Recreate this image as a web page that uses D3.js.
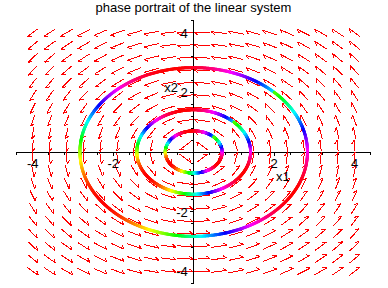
<!DOCTYPE html>
<html>
<head>
<meta charset="utf-8">
<script src="https://cdn.jsdelivr.net/npm/d3@7"></script>
<style>
  html, body { margin: 0; padding: 0; background: #fff; }
  svg { display: block; font-family: "Liberation Sans", Arial, sans-serif; }
</style>
</head>
<body>
<div id="chart"></div>
<script>
// linear system x' = A x, with the plotted trajectories
const systemMatrix = [[0, -1], [1, 0]];
const initialX1 = [0.5, 1, 2];
const initialX2 = [0.5, 1, 2];
const timeSpan = [0, 2 * Math.PI];

// direction field grid
const gridRange = [-4, 4];
const gridCount = 20;

// axes
const viewRange = [-4.4, 4.4];
const minorTickStep = 0.4;
const xTickLabels = [-4, -2, 2, 4];
const yTickLabels = [-4, -2, 2, 4];

const TITLE = 'phase portrait of the linear system';
const WIDTH = 388, HEIGHT = 288;
const PLOT = {left: 16.7, right: 370.7, top: 20.7, bottom: 283.3};
const ARROW_LEN = 0.39;   // data units
const BARB_LEN = 4.5, BARB_ANGLE = 35 * Math.PI / 180;

const svg = d3.select('#chart').append('svg')
  .attr('width', WIDTH)
  .attr('height', HEIGHT);

const x = d3.scaleLinear().domain(viewRange).range([PLOT.left, PLOT.right]);
const y = d3.scaleLinear().domain(viewRange).range([PLOT.bottom, PLOT.top]);

function field(p) {
  return [
    systemMatrix[0][0] * p[0] + systemMatrix[0][1] * p[1],
    systemMatrix[1][0] * p[0] + systemMatrix[1][1] * p[1]
  ];
}

// ---- axes through the origin (drawn first, curves go on top)
const minorTicks = d3.range(-11, 12).filter(k => k !== 0).map(k => k * minorTickStep);
const axisColor = '#000';
const x0 = x(0), y0 = y(0);
const isMajor = (d, list) => list.includes(Math.round(d * 10) / 10);

const axG = svg.append('g').attr('class', 'axes').attr('shape-rendering', 'crispEdges');
axG.append('line')
  .attr('x1', PLOT.left).attr('x2', PLOT.right)
  .attr('y1', y0).attr('y2', y0)
  .attr('stroke', axisColor);
axG.append('line')
  .attr('x1', x0).attr('x2', x0)
  .attr('y1', PLOT.top).attr('y2', PLOT.bottom)
  .attr('stroke', axisColor);

axG.selectAll('.xtick')
  .data(minorTicks)
  .enter().append('line')
  .attr('class', 'xtick')
  .attr('x1', d => x(d)).attr('x2', d => x(d))
  .attr('y1', y0).attr('y2', d => y0 + (isMajor(d, xTickLabels) ? 4 : 3))
  .attr('stroke', axisColor);

axG.selectAll('.ytick')
  .data(minorTicks)
  .enter().append('line')
  .attr('class', 'ytick')
  .attr('y1', d => y(d)).attr('y2', d => y(d))
  .attr('x1', x0).attr('x2', d => x0 - (isMajor(d, yTickLabels) ? 4 : 3))
  .attr('stroke', axisColor);

// ---- direction field arrows
const gridVals = d3.range(gridCount).map(i => gridRange[0] + i * (gridRange[1] - gridRange[0]) / (gridCount - 1));
const gridPts = [];
gridVals.forEach(gx => gridVals.forEach(gy => gridPts.push([gx, gy])));

function arrowPath(p) {
  let v = field(p);
  let n = Math.hypot(v[0], v[1]) || 1;
  let dx = v[0] / n * ARROW_LEN / 2, dy = v[1] / n * ARROW_LEN / 2;
  let tx = x(p[0] - dx), ty = y(p[1] - dy);
  let hx = x(p[0] + dx), hy = y(p[1] + dy);
  let bl = Math.hypot(tx - hx, ty - hy);
  let bx = (tx - hx) / bl, by = (ty - hy) / bl;
  let sx = bx * Math.cos(BARB_ANGLE) - by * Math.sin(BARB_ANGLE);
  let sy = bx * Math.sin(BARB_ANGLE) + by * Math.cos(BARB_ANGLE);
  return 'M' + tx + ',' + ty + 'L' + hx + ',' + hy +
    'M' + hx + ',' + hy + 'L' + (hx + sx * BARB_LEN) + ',' + (hy + sy * BARB_LEN);
}

svg.append('g')
  .attr('class', 'arrows')
  .selectAll('path')
  .data(gridPts)
  .enter().append('path')
  .attr('d', arrowPath)
  .attr('fill', 'none')
  .attr('stroke', '#ff0000')
  .attr('stroke-width', 1)
  .attr('shape-rendering', 'crispEdges');

// ---- trajectories (RK4), coloured by hue along t
const STEPS = 720;
function integrate(p0) {
  let h = (timeSpan[1] - timeSpan[0]) / STEPS;
  let pts = [{t: timeSpan[0], p: p0}];
  let p = p0;
  for (let i = 1; i <= STEPS; i++) {
    let k1 = field(p);
    let k2 = field([p[0] + h / 2 * k1[0], p[1] + h / 2 * k1[1]]);
    let k3 = field([p[0] + h / 2 * k2[0], p[1] + h / 2 * k2[1]]);
    let k4 = field([p[0] + h * k3[0], p[1] + h * k3[1]]);
    p = [p[0] + h / 6 * (k1[0] + 2 * k2[0] + 2 * k3[0] + k4[0]),
         p[1] + h / 6 * (k1[1] + 2 * k2[1] + 2 * k3[1] + k4[1])];
    pts.push({t: timeSpan[0] + i * h, p: p});
  }
  return pts;
}

// Maple-style linecolor = sin(t*Pi/2), spread over the hue circle
function hueColor(t) {
  let h = (Math.sin(t * Math.PI / 2) + 1) / 2;
  return d3.hsl(h * 360, 1, 0.5).toString();
}

const trajG = svg.append('g').attr('class', 'trajectories');
initialX1.forEach((x1, i) => {
  let pts = integrate([x1, initialX2[i]]);
  let segs = d3.pairs(pts);
  trajG.append('g')
    .selectAll('line')
    .data(segs)
    .enter().append('line')
    .attr('x1', d => x(d[0].p[0]))
    .attr('y1', d => y(d[0].p[1]))
    .attr('x2', d => x(d[1].p[0]))
    .attr('y2', d => y(d[1].p[1]))
    .attr('stroke', d => hueColor((d[0].t + d[1].t) / 2))
    .attr('stroke-width', 3)
    .attr('stroke-linecap', 'round');
});

// ---- text
svg.append('g')
  .selectAll('text')
  .data(xTickLabels)
  .enter().append('text')
  .attr('x', d => x(d))
  .attr('y', y0 + 16)
  .attr('text-anchor', 'middle')
  .style('font-size', '13px')
  .text(d => String(d));

svg.append('g')
  .selectAll('text')
  .data(yTickLabels)
  .enter().append('text')
  .attr('x', x0 - 6)
  .attr('y', d => y(d) + 5)
  .attr('text-anchor', 'end')
  .style('font-size', '13px')
  .text(d => String(d));

svg.append('text')
  .attr('x', 178).attr('y', 92)
  .attr('text-anchor', 'end')
  .style('font-size', '13px')
  .text('x2');

svg.append('text')
  .attr('x', 276).attr('y', 181)
  .style('font-size', '13px')
  .text('x1');

svg.append('text')
  .attr('x', 193.5).attr('y', 12)
  .attr('text-anchor', 'middle')
  .style('font-size', '13px')
  .text(TITLE);
</script>
</body>
</html>
